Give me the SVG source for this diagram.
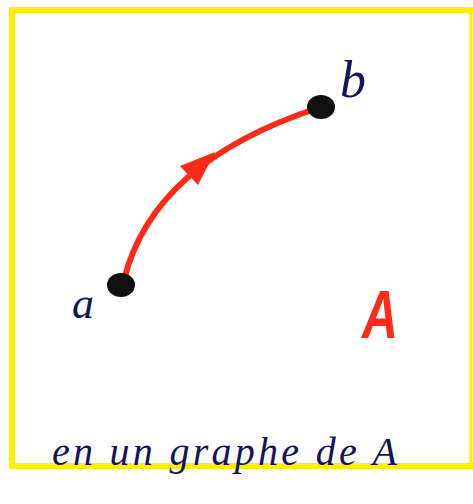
<svg xmlns="http://www.w3.org/2000/svg" width="473" height="504" viewBox="0 0 473 504">
<style>
.lbl{font-family:"Liberation Serif","DejaVu Serif",serif;font-style:italic;fill:#14145a}
.node{fill:#111}
</style>
<rect width="473" height="504" fill="#fff"/>
<g id="frame" fill="none" stroke="#ffee00" stroke-linecap="square">
<path d="M12,10 H471" stroke-width="6"/>
<path d="M12,10 V466 H471" stroke-width="6"/>
<path d="M471,10 V466" stroke-width="3"/>
</g>
<g id="connectors">
<path d="M124,280 C140,215 190,150 318,108" fill="none" stroke="#ff2a1a" stroke-width="6" stroke-linecap="round"/>
<polygon points="215,152 180,166 198,185" fill="#ff2a1a"/>
</g>
<g id="node-a">
<ellipse class="node" cx="121" cy="285" rx="14" ry="12"/>
<text class="lbl" x="72" y="318" font-size="44">a</text>
</g>
<g id="node-b">
<ellipse class="node" cx="321" cy="107" rx="14" ry="12"/>
<text class="lbl" x="340" y="97" font-size="52">b</text>
</g>
<g id="label-A">
<text x="362" y="338" font-family="Liberation Sans,Arial,sans-serif" font-weight="bold" font-style="italic" font-size="68" fill="#ff2a1a" textLength="36" lengthAdjust="spacingAndGlyphs">A</text>
</g>
<g id="caption">
<text class="lbl" x="52" y="465" font-size="40" textLength="345" lengthAdjust="spacing">en un graphe de A</text>
</g>
</svg>
